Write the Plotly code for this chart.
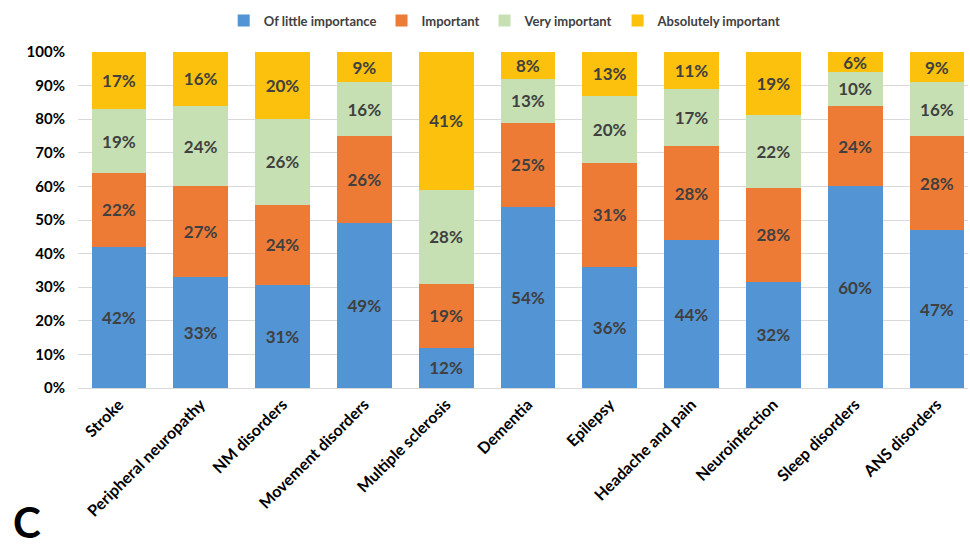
import plotly.graph_objects as go

categories = ["Stroke", "Peripheral neuropathy", "NM disorders", "Movement disorders",
              "Multiple sclerosis", "Dementia", "Epilepsy", "Headache and pain",
              "Neuroinfection", "Sleep disorders", "ANS disorders"]
little = [42, 33, 31, 49, 12, 54, 36, 44, 32, 60, 47]
important = [22, 27, 24, 26, 19, 25, 31, 28, 28, 24, 28]
very = [19, 24, 26, 16, 28, 13, 20, 17, 22, 10, 16]
absolutely = [17, 16, 20, 9, 41, 8, 13, 11, 19, 6, 9]

series = [
    ("Of little importance", little, "#5394D5"),
    ("Important", important, "#EE7B35"),
    ("Very important", very, "#C6E0B4"),
    ("Absolutely important", absolutely, "#FBC10C"),
]

FONT = "Lato"

fig = go.Figure()
for name, vals, col in series:
    fig.add_trace(go.Bar(
        x=categories, y=vals, name=name,
        marker=dict(color=col, line=dict(width=0)),
        text=[f"{v}%" for v in vals], textposition="inside",
        insidetextanchor="middle", constraintext="none",
        textfont=dict(family=FONT, size=17, color="#404040", weight="bold"),
        textangle=0,
    ))

fig.update_layout(
    barmode="stack", barnorm="percent", bargap=0.33,
    width=970, height=549,
    margin=dict(l=78, r=2, t=52, b=161),
    paper_bgcolor="white", plot_bgcolor="white",
    legend=dict(orientation="h", x=0.48, xanchor="center", y=0.99, yanchor="top",
                yref="container",
                font=dict(family=FONT, size=13, color="#404040", weight="bold"),
                traceorder="normal"),
    xaxis=dict(tickangle=-45, range=[-0.5, 10.38],
               tickfont=dict(family=FONT, size=16, color="black", weight="bold"),
               showline=True, linecolor="#D9D9D9", ticks=""),
    yaxis=dict(range=[0, 100], dtick=10, ticksuffix="%", showgrid=True, gridcolor="#D9D9D9",
               tickfont=dict(family=FONT, size=15, color="black", weight="bold"),
               zeroline=False, ticks="", ticklabelstandoff=12),
    annotations=[dict(text="C", xref="paper", yref="paper", x=-0.075, y=-0.478,
                      xanchor="left", yanchor="bottom", showarrow=False,
                      font=dict(family=FONT, size=42, color="black", weight="bold"))],
)
fig.write_html("out.html")
